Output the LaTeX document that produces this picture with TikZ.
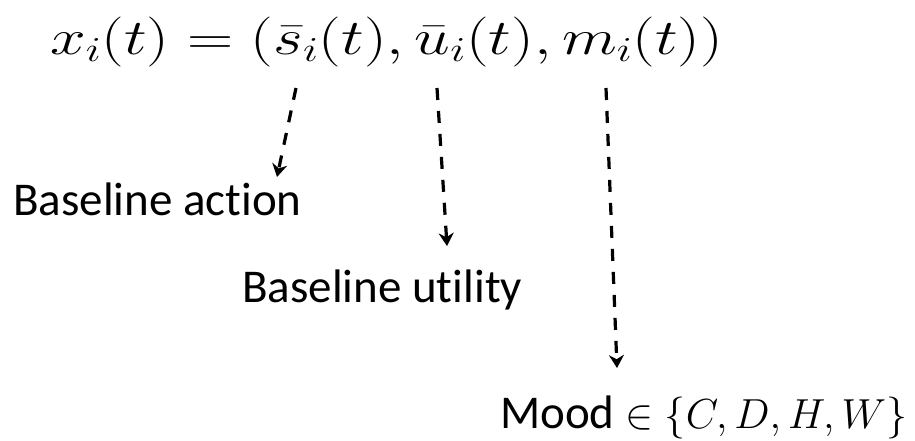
\RequirePackage{fix-cm}
\documentclass[tikz,border=0pt]{standalone}
\usepackage{amsmath}
\usepackage{graphicx}
\usepackage{fontspec}
\setmainfont{Carlito}[Ligatures=NoCommon]
\usetikzlibrary{arrows.meta}
\tikzset{
  lbl/.style={font=\fontsize{47}{52}\selectfont, inner sep=0pt, anchor=base west},
  dep/.style={->, dash pattern=on 12pt off 11pt, line width=3.2pt}
}

\begin{document}
\begin{tikzpicture}[x=1pt, y=-1pt, >={Stealth[length=13pt,width=15pt]}]
  \useasboundingbox (0,0) rectangle (915,440);
  % formula
  \node[inner sep=0pt, anchor=base west, font=\fontsize{50}{56}\selectfont] (state) at (50,54)
    {\scalebox{1.28}[1]{$x_i(t) = (\bar{s}_i(t), \bar{u}_i(t), m_i(t))$}};
  % labels
  \node[lbl] (action) at (13,215) {Baseline action};
  \node[lbl] (utility) at (242,302) {Baseline utility};
  \node[lbl] (mood) at (500,428)
    {Mood {\fontsize{42}{48}\selectfont$\in \{C, D, H, W\}$}};
  % arrows
  \coordinate (sbar) at (296,88);
  \coordinate (ubar) at (437,88);
  \coordinate (mbar) at (606,88);
  \coordinate (sbar tip) at (277,177);
  \coordinate (ubar tip) at (447,246);
  \coordinate (mbar tip) at (617,368);
  \draw[dep] (sbar) -- (sbar tip);
  \draw[dep] (ubar) -- (ubar tip);
  \draw[dep] (mbar) -- (mbar tip);
\end{tikzpicture}
\end{document}
